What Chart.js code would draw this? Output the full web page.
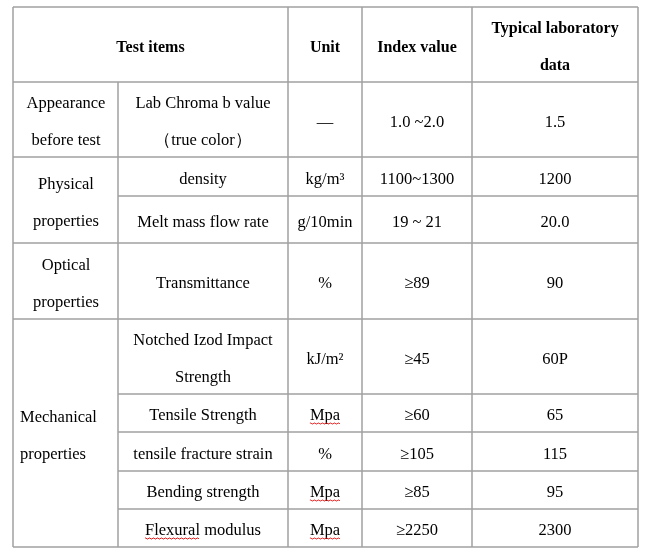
<!DOCTYPE html>
<html><head><meta charset="utf-8">
<script src="https://cdn.jsdelivr.net/npm/chart.js@4/dist/chart.umd.min.js"></script>
<style>html,body{margin:0;padding:0;background:#fff;}#wrap{width:659px;height:558px;position:relative}</style>
</head><body><div id="wrap"><canvas id="c"></canvas></div>
<script>
// ---- table content ----
const headers = ['Test items', 'Unit', 'Index value', 'Typical laboratory\ndata'];
const groups = ['Appearance\nbefore test', 'Physical\nproperties', 'Optical\nproperties', 'Mechanical\nproperties'];
const groupSizes = [1, 2, 1, 5];
const items = ['Lab Chroma b value\n（true color）', 'density', 'Melt mass flow rate', 'Transmittance',
  'Notched Izod Impact\nStrength', 'Tensile Strength', 'tensile fracture strain', 'Bending strength', 'Flexural modulus'];
const units = ['—', 'kg/m³', 'g/10min', '%', 'kJ/m²', 'Mpa', '%', 'Mpa', 'Mpa'];
const indexValues = ['1.0 ~2.0', '1100~1300', '19 ~ 21', '≥89', '≥45', '≥60', '≥105', '≥85', '≥2250'];
const typicalData = ['1.5', '1200', '20.0', '90', '60P', '65', '115', '95', '2300'];
const spellFlagged = ['Mpa', 'Flexural'];

// ---- layout (scale units) ----
const colEdges = [13, 118, 288, 362, 472, 638];
const rowEdges = [7, 82, 157, 196, 243, 319, 394, 432, 471, 509, 547];
const LINE_GAP = 37;

// build cells
const cells = [];
const mid = (a, b) => (a + b) / 2;
// header
cells.push({x: mid(colEdges[0], colEdges[2]), y: mid(rowEdges[0], rowEdges[1]), t: headers[0], bold: true});
for (let c = 1; c < headers.length; c++) {
  cells.push({x: mid(colEdges[c + 1], colEdges[c + 2]), y: mid(rowEdges[0], rowEdges[1]), t: headers[c], bold: true});
}
// groups
let r = 0;
groups.forEach((g, i) => {
  const top = rowEdges[1 + r], bot = rowEdges[1 + r + groupSizes[i]];
  const left = i === 3;
  cells.push({x: left ? 20 : 66, y: mid(top, bot), t: g, align: left ? 'left' : 'center'});
  r += groupSizes[i];
});
// rows
items.forEach((it, i) => {
  const cy = mid(rowEdges[1 + i], rowEdges[2 + i]);
  cells.push({x: mid(colEdges[1], colEdges[2]), y: cy, t: it});
  cells.push({x: mid(colEdges[2], colEdges[3]), y: cy, t: units[i]});
  cells.push({x: mid(colEdges[3], colEdges[4]), y: cy, t: indexValues[i]});
  cells.push({x: mid(colEdges[4], colEdges[5]), y: cy, t: typicalData[i]});
});

// grid segments: [x1,y1,x2,y2]
const segs = [];
// verticals
segs.push([colEdges[0], rowEdges[0], colEdges[0], rowEdges[10]]);
segs.push([colEdges[1], rowEdges[1], colEdges[1], rowEdges[10]]);
for (let c = 2; c < colEdges.length; c++) segs.push([colEdges[c], rowEdges[0], colEdges[c], rowEdges[10]]);
// horizontals
const groupBounds = [0];
groupSizes.reduce((a, s) => { groupBounds.push(a + s); return a + s; }, 0);
for (let k = 0; k < rowEdges.length; k++) {
  const isFull = k === 0 || groupBounds.includes(k - 1);
  segs.push([isFull ? colEdges[0] : colEdges[1], rowEdges[k], colEdges[5], rowEdges[k]]);
}

const FONT = '"Liberation Serif", "Times New Roman", serif';

const tablePlugin = {
  id: 'tablePlugin',
  beforeDatasetsDraw(chart) {
    const {ctx, scales: {x, y}} = chart;
    ctx.save();
    ctx.strokeStyle = '#a0a0a0';
    ctx.lineWidth = 1.5;
    segs.forEach(s => {
      ctx.beginPath();
      ctx.moveTo(Math.round(x.getPixelForValue(s[0])), Math.round(y.getPixelForValue(s[1])));
      ctx.lineTo(Math.round(x.getPixelForValue(s[2])), Math.round(y.getPixelForValue(s[3])));
      ctx.stroke();
    });
    ctx.restore();
  },
  afterDatasetsDraw(chart) {
    const {ctx} = chart;
    const meta = chart.getDatasetMeta(0);
    ctx.save();
    ctx.fillStyle = '#000';
    ctx.textBaseline = 'alphabetic';
    meta.data.forEach((el, i) => {
      const cell = cells[i];
      const lines = cell.t.split('\n');
      ctx.font = (cell.bold ? 'bold 16px ' : '16.5px ') + FONT;
      ctx.textAlign = cell.align || 'center';
      const y0 = el.y - (lines.length - 1) * LINE_GAP / 2;
      lines.forEach((ln, j) => {
        const by = y0 + j * LINE_GAP + 7;
        ctx.fillText(ln, el.x, by);
        spellFlagged.forEach(word => {
          const idx = ln.indexOf(word);
          if (idx < 0) return;
          const w = ctx.measureText(ln).width;
          let startX = ctx.textAlign === 'center' ? el.x - w / 2 : el.x;
          startX += ctx.measureText(ln.slice(0, idx)).width;
          const ww = ctx.measureText(word).width;
          ctx.save();
          ctx.strokeStyle = '#e02020';
          ctx.lineWidth = 1;
          ctx.beginPath();
          for (let px = 0; px <= ww; px += 1) {
            const yy = by + 3 + ((Math.floor(px / 2) % 2) ? 1 : 0);
            if (px === 0) ctx.moveTo(startX + px, yy); else ctx.lineTo(startX + px, yy);
          }
          ctx.stroke();
          ctx.restore();
        });
      });
    });
    ctx.restore();
  }
};

new Chart(document.getElementById('c'), {
  type: 'scatter',
  data: {datasets: [{data: cells.map(c => ({x: c.x, y: c.y})), pointRadius: 0, pointHoverRadius: 0}]},
  options: {
    responsive: true, maintainAspectRatio: false, animation: false,
    layout: {padding: 0},
    plugins: {legend: {display: false}, tooltip: {enabled: false}},
    events: [],
    scales: {
      x: {type: 'linear', min: 0, max: 659, display: false},
      y: {type: 'linear', min: 0, max: 558, reverse: true, display: false}
    }
  },
  plugins: [tablePlugin]
});
</script></body></html>
